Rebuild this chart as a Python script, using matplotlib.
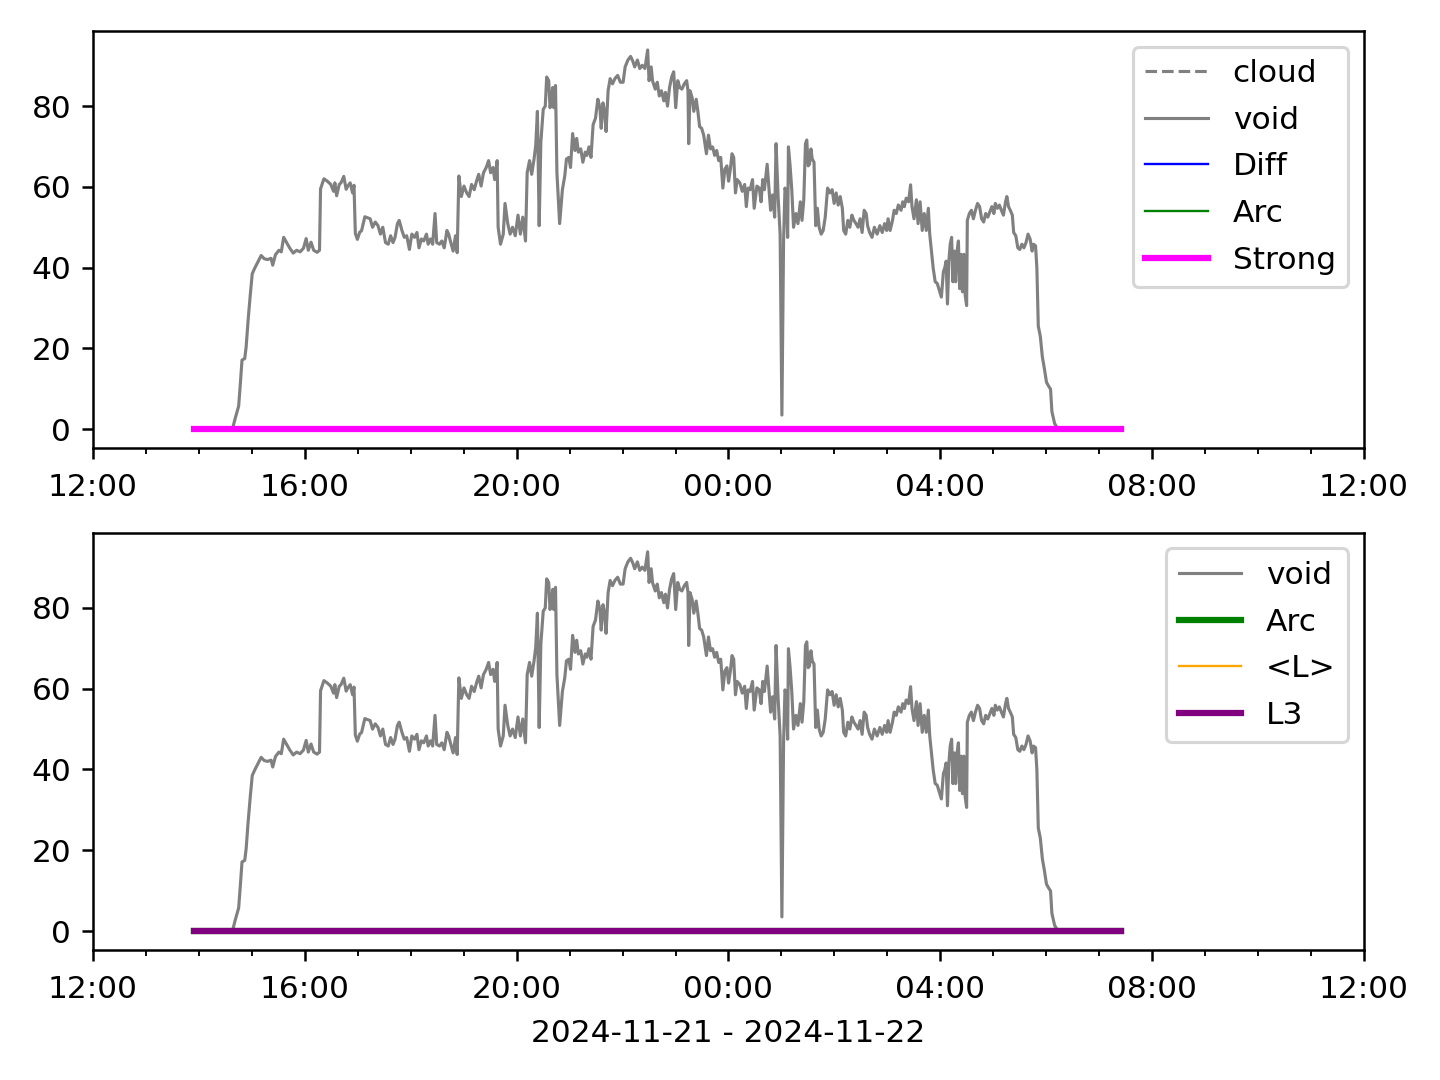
#!/usr/bin/python3
#encoding-utf8

# Time window of both panels and span of the flat (zero) series.
day_start = "2024-11-21 12:00"
day_end = "2024-11-22 12:00"
flat_times = ["2024-11-21 13:54", "2024-11-22 07:25"]
xlabel = "2024-11-21 - 2024-11-22"

# 'void' series: minutes after 2024-11-21 12:00 and the value.
void_minutes = [
    114.4,
    158.0, 161.1, 165.0, 166.9, 168.8, 171.9, 173.5, 175.8, 178.1, 180.4,
    183.5, 188.2, 190.5, 194.0, 197.8, 201.7, 203.6, 206.7, 210.6, 213.3,
    216.0, 219.1, 223.0, 226.8, 230.7, 234.6, 238.4, 241.5, 243.9, 247.0,
    250.0, 253.9, 256.6, 257.8, 261.6, 265.5, 269.4, 272.5, 274.0, 276.0,
    279.0, 281.0, 284.1, 286.8, 288.7, 291.4, 294.1, 295.7, 297.2, 299.5,
    302.2, 304.2, 308.0,
    314.0, 316.7, 319.8, 322.9, 325.6, 328.3, 331.4, 334.5, 337.2, 339.9,
    342.2, 344.9, 346.9, 350.0, 352.7, 355.4, 358.5, 361.2, 364.3, 367.0,
    369.3, 372.0, 374.7, 377.8, 379.7, 382.4, 384.8, 387.5, 389.4, 392.5,
    395.2, 397.9, 401.0, 402.9, 404.9, 408.0, 410.7, 412.6, 414.5, 417.3,
    420.3, 423.4, 426.1, 428.9, 431.9, 435.0, 437.0, 439.7, 442.4, 445.5,
    448.2, 450.5, 453.2, 455.1, 457.9, 459.0, 461.7, 464.8,
    466.8, 469.9, 472.6, 475.3, 478.4, 481.5, 484.2, 486.9, 490.0, 491.9,
    494.6, 497.0, 499.7, 501.6, 503.5, 505.5, 507.4, 510.1, 512.4, 514.0,
    516.3, 517.8, 519.8, 520.9, 522.1, 524.0, 525.6, 528.7, 531.8, 534.5,
    536.4, 539.1, 541.0, 543.4, 546.1, 548.0, 549.9, 552.6, 555.0, 557.7,
    559.6, 561.9, 564.2, 566.6, 569.3, 572.0, 574.3, 575.8, 577.8, 579.7,
    581.3, 583.6, 585.9, 588.6, 591.3, 594.4, 597.5, 600.6, 602.9, 606.0,
    609.1, 611.8, 613.7, 616.8, 619.5, 622.3, 625.3, 628.4,
    630.0, 632.4, 633.9, 637.0, 639.3, 641.6, 644.0, 646.7, 648.6, 650.9,
    653.2, 655.6, 657.9, 660.2, 662.5, 664.8, 667.2, 669.9, 672.6, 674.1,
    674.9, 676.4, 678.8, 680.7, 683.4, 685.3, 687.3, 689.6, 691.9, 695.0,
    697.3, 699.6, 702.0, 704.3, 706.6, 708.9, 711.2, 713.6, 715.9, 718.2,
    720.1, 722.1, 724.0, 725.9, 727.9, 729.8, 732.9, 735.6, 738.3, 740.2,
    742.2, 744.5, 747.2, 749.1, 752.2, 754.9, 756.9, 758.8, 760.7, 763.8,
    765.4, 767.7, 770.0, 772.3, 773.9, 776.2, 778.5, 780.5, 782.4, 784.0,
    785.5, 787.0,
    787.9, 789.8, 791.7, 793.7, 796.4, 798.7, 801.4, 803.3, 805.3, 807.2,
    808.7, 810.3, 811.8, 813.4, 814.9, 816.9, 818.8, 820.7, 822.7, 825.0,
    827.3, 829.6, 832.3, 835.0, 837.4, 839.7, 842.0, 844.3, 846.6, 849.0,
    850.5, 852.8, 855.2, 857.5, 859.8, 862.1, 864.4, 866.8, 869.1, 871.4,
    873.7, 876.0, 877.6, 879.9, 882.6, 885.3, 888.4, 891.5, 894.2, 896.9,
    899.2, 900.8, 903.1, 905.8, 907.7, 910.1, 912.4, 915.5, 917.4, 919.3,
    921.3, 924.0, 926.3, 927.9, 930.2, 932.9, 934.8, 937.1, 939.5, 941.8,
    944.1, 946.4,
    948.0, 949.6, 951.9, 954.2, 956.5, 958.8, 961.2, 963.5, 965.0, 966.6,
    968.1, 969.7, 971.2, 972.8, 974.3, 975.9, 977.4, 979.0, 980.5, 982.0,
    983.6, 985.1, 986.7, 988.2, 989.8, 990.6, 992.9, 995.2, 997.5, 999.8,
    1002.2, 1004.5, 1006.8, 1009.1, 1011.4, 1013.8, 1016.1, 1018.4, 1020.7, 1022.3,
    1024.6, 1026.9, 1029.2, 1031.5, 1033.9, 1035.4, 1037.3, 1039.3, 1041.6, 1043.1,
    1045.5, 1047.8, 1050.1, 1052.4, 1054.7, 1057.1, 1059.4, 1061.7, 1064.0, 1065.6,
    1067.9, 1069.4, 1071.0, 1073.3, 1075.6, 1077.9, 1080.3, 1082.6, 1084.9, 1086.4,
    1089.5, 1093.4,
    1164.6,
]
void_values = [
    0,
    0, 2.7, 5.7, 11.2, 17.1, 17.5, 20.4, 27.2, 33.1, 38.5,
    40.0, 42.0, 43.0, 42.2, 42.0, 42.3, 40.6, 43.2, 44.3, 43.9,
    47.5, 46.3, 44.8, 43.6, 44.3, 43.9, 44.8, 47.2, 44.3, 46.3,
    44.3, 43.8, 44.3, 59.5, 62.0, 61.4, 60.6, 58.9, 61.0, 57.8,
    60.6, 61.0, 62.6, 59.4, 60.2, 61.0, 58.5, 60.4, 48.5, 47.0,
    48.8, 49.1, 52.6,
    52.1, 50.0, 51.3, 50.4, 48.3, 50.0, 46.2, 45.8, 47.9, 46.2,
    47.5, 50.9, 51.7, 49.2, 47.5, 47.9, 44.5, 48.3, 47.5, 48.7,
    44.9, 47.1, 46.6, 48.3, 45.8, 47.1, 45.8, 53.4, 46.2, 45.8,
    46.6, 44.9, 49.2, 48.3, 46.6, 44.1, 47.9, 43.7, 62.7, 57.6,
    60.2, 58.5, 57.6, 60.6, 59.3, 61.8, 63.1, 60.2, 63.5, 64.8,
    66.5, 63.5, 64.8, 61.8, 66.5, 50.0, 45.8, 48.3,
    55.9, 50.9, 48.3, 50.0, 47.9, 53.0, 48.3, 52.5, 46.6, 63.5,
    66.5, 63.1, 66.9, 70.3, 78.7, 50.4, 71.1, 79.2, 80.0, 87.2,
    86.3, 79.6, 82.1, 84.6, 79.6, 85.1, 63.5, 50.9, 59.3, 62.7,
    66.9, 67.3, 64.8, 73.2, 69.0, 72.0, 68.6, 69.4, 66.1, 68.6,
    67.8, 69.9, 67.3, 75.4, 77.0, 81.7, 79.6, 74.5, 80.8, 78.7,
    73.7, 83.8, 86.8, 85.5, 86.8, 87.6, 85.9, 85.9, 89.7, 91.4,
    92.3, 91.0, 89.7, 91.4, 89.3, 90.1, 89.3, 93.9,
    86.3, 89.7, 86.3, 84.2, 85.9, 82.5, 83.8, 81.3, 83.4, 80.0,
    84.6, 87.2, 88.5, 79.6, 86.3, 84.6, 84.2, 85.5, 86.3, 83.8,
    70.7, 83.8, 82.1, 78.7, 81.7, 78.7, 74.9, 74.5, 72.8, 68.2,
    72.8, 69.4, 69.9, 67.8, 69.0, 66.5, 67.3, 59.7, 64.4, 65.2,
    61.4, 64.4, 68.2, 67.3, 58.5, 61.8, 61.0, 58.9, 60.6, 55.1,
    59.7, 59.3, 61.8, 54.7, 60.2, 59.7, 56.3, 61.8, 59.3, 65.6,
    61.0, 54.2, 58.0, 52.5, 70.7, 57.6, 48.3, 3.5, 46.6, 59.7,
    58.5, 47.5,
    69.9, 65.2, 59.3, 50.0, 53.4, 50.9, 56.3, 51.7, 56.8, 70.7,
    71.6, 65.2, 65.6, 69.4, 66.9, 66.1, 50.4, 54.7, 50.0, 48.3,
    49.2, 52.5, 59.7, 58.5, 59.3, 55.9, 58.5, 55.5, 57.6, 54.7,
    49.2, 48.3, 51.7, 50.0, 53.0, 51.7, 50.9, 50.0, 52.1, 48.7,
    54.2, 53.4, 50.4, 48.7, 47.5, 50.0, 48.3, 50.4, 48.7, 50.9,
    49.2, 52.1, 49.2, 51.7, 54.2, 53.4, 55.5, 54.2, 56.3, 55.1,
    57.2, 56.3, 60.5, 55.1, 52.1, 56.8, 50.9, 56.3, 49.2, 53.4,
    49.2, 54.7,
    48.3, 44.9, 39.9, 36.5, 36.1, 34.4, 32.7, 39.0, 39.9, 41.6,
    31.0, 41.6, 45.8, 47.5, 36.5, 44.1, 36.5, 44.1, 46.6, 34.8,
    43.3, 34.0, 43.3, 33.1, 30.6, 51.7, 53.4, 54.2, 52.1, 54.2,
    55.9, 55.1, 52.1, 51.3, 53.4, 52.5, 53.8, 55.1, 53.4, 55.9,
    54.7, 55.5, 54.2, 53.0, 56.3, 57.6, 55.1, 54.2, 53.0, 48.7,
    47.9, 44.9, 44.5, 45.8, 44.9, 46.2, 48.3, 47.1, 44.1, 45.8,
    45.4, 39.9, 25.5, 23.0, 17.9, 15.0, 11.6, 10.7, 9.9, 4.4,
    1.4, 0,
    0,
]

# Series that stay at zero over the whole run.
cloud = [0, 0]
diff = [0, 0]
arc = [0, 0]
strong = [0, 0]
mean_l = [0, 0]
l3 = [0, 0]


def void_times():
    """
    Convert the void minute offsets into timestamps.
    """
    return pd.Timestamp(day_start) + pd.to_timedelta(void_minutes, unit='min')


def format_time_axis(ax):
    """
    Hour:minute ticks every four hours, minor ticks every hour.
    """
    ax.set_xlim(pd.Timestamp(day_start), pd.Timestamp(day_end))
    ax.xaxis.set_major_locator(mdates.HourLocator(byhour=range(0, 24, 4)))
    ax.xaxis.set_minor_locator(mdates.HourLocator())
    ax.xaxis.set_major_formatter(mdates.DateFormatter('%H:%M'))
    ax.tick_params(axis='x', which='major', pad=4.4)


def main():
    t_void = void_times().to_numpy()
    t_flat = pd.to_datetime(flat_times).to_numpy()

    fig, (ax1, ax2) = plt.subplots(2, 1, figsize=(6.4, 4.8))
    fig.subplots_adjust(left=0.0646, right=0.9472, top=0.9713,
                        bottom=0.1204, hspace=0.203)

    # Upper panel.
    ax1.plot(t_flat, cloud, color='gray', ls='--', lw=1, label='cloud')
    ax1.plot(t_void, void_values, color='gray', lw=1, label='void')
    ax1.plot(t_flat, diff, color='blue', lw=0.75, label='Diff')
    ax1.plot(t_flat, arc, color='green', lw=0.75, label='Arc')
    ax1.plot(t_flat, strong, color='magenta', lw=2, label='Strong')
    format_time_axis(ax1)
    ax1.legend(loc='upper right', labelspacing=0.565)

    # Lower panel.
    ax2.plot(t_void, void_values, color='gray', lw=1, label='void')
    ax2.plot(t_flat, arc, color='green', lw=2, label='Arc')
    ax2.plot(t_flat, mean_l, color='orange', lw=0.75, label='<L>')
    ax2.plot(t_flat, l3, color='purple', lw=2, label='L3')
    format_time_axis(ax2)
    ax2.legend(loc='upper right', labelspacing=0.565)
    ax2.set_xlabel(xlabel, labelpad=5)

    fig.savefig('out.png', dpi=225)


if(__name__ == '__main__'):
    import matplotlib
    matplotlib.use('Agg')
    import matplotlib.pyplot as plt
    import matplotlib.dates as mdates
    import pandas as pd

    main()
